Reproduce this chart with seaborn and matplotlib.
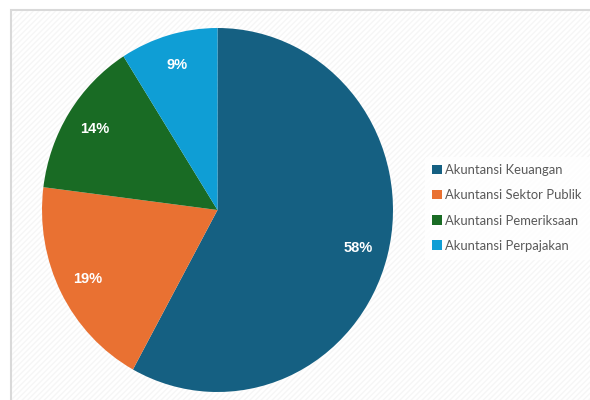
import seaborn as sns
import numpy as np
import matplotlib.pyplot as plt
from matplotlib.patches import Rectangle

sns.set_style("white")
plt.rcParams['font.family'] = ['Lato', 'DejaVu Sans']

categories = ['Akuntansi Keuangan', 'Akuntansi Sektor Publik',
              'Akuntansi Pemeriksaan', 'Akuntansi Perpajakan']
shares = [58, 19, 14, 9]
colors = ['#156082', '#E97132', '#196B24', '#0F9ED5']

fig = plt.figure(figsize=(5.9, 4.0), dpi=100)

# chart area frame with faint diagonal pattern
bg = fig.add_axes([0, 0, 1, 1])
bg.set_xlim(0, 590)
bg.set_ylim(400, 0)
bg.axis('off')
bg.add_patch(Rectangle((11, 10), 600, 400, facecolor='white',
                       edgecolor='#d9d9d9', linewidth=1.5))
bg.add_patch(Rectangle((12, 11), 600, 400, facecolor='none',
                       edgecolor='#f6f6f6', hatch='//////', linewidth=0))

# pie slightly taller than wide, like the source
ax = fig.add_axes([42 / 590, 8 / 400, 351 / 590, 364 / 400])
wedges, texts, autotexts = ax.pie(
    shares, colors=colors, startangle=90, counterclock=False,
    autopct='%1.0f%%', pctdistance=0.83,
    wedgeprops=dict(linewidth=0),
    textprops=dict(color='white', fontsize=10.5, fontweight='bold',
                   family=['Liberation Sans', 'DejaVu Sans']))
ax.set_xlim(-1, 1)
ax.set_ylim(-1, 1)
ax.set_aspect('auto')

leg = fig.legend(wedges, categories, loc='center left',
                 bbox_to_anchor=(418 / 590, 1 - 208 / 400),
                 frameon=True, fontsize=9.4, labelcolor='#595959',
                 handlelength=0.7, handleheight=0.7, handletextpad=0.3,
                 labelspacing=1.0, borderpad=0.6)
leg.get_frame().set_facecolor('white')
leg.get_frame().set_edgecolor('white')

plt.savefig('out.png', dpi=100)
